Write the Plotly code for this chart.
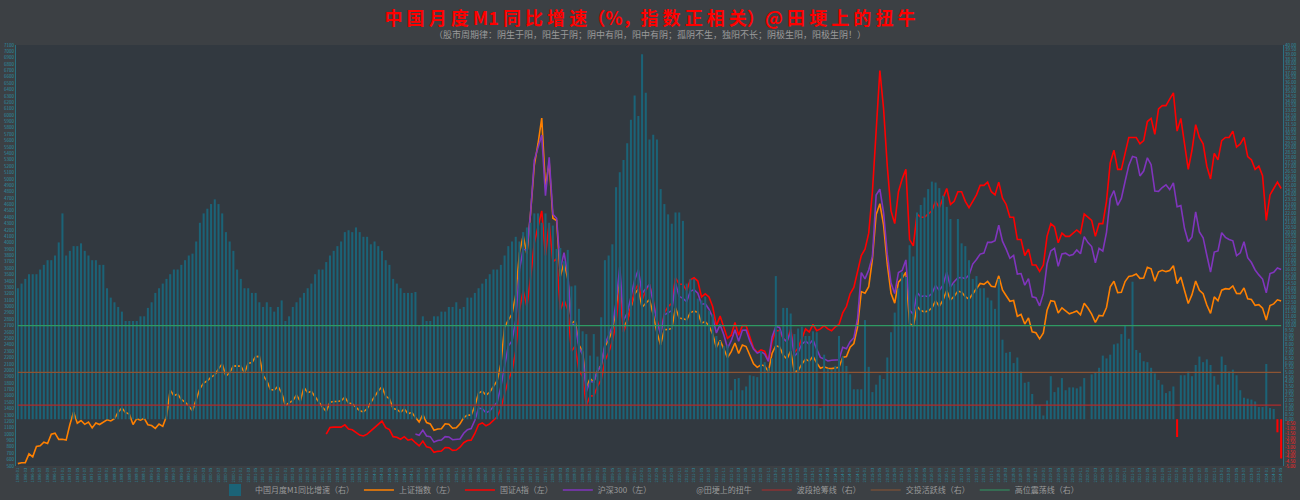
import plotly.graph_objects as go

# ---------------- data ----------------
start_year, start_month = 1996, 1
n_months = 341  # 1996-01 .. 2024-05
months = []
y, m = start_year, start_month
for _ in range(n_months):
    months.append(f"{y}-{m:02d}")
    m += 1
    if m > 12:
        m = 1
        y += 1

# China M1 yoy growth (%), monthly 1996-01 .. 2024-05
m1 = [
    14.0, 14.5, 15.0, 15.5, 15.5, 15.5, 16.0, 16.5, 17.0, 17.0, 17.5, 18.9,
    22.0, 17.5, 18.0, 18.5, 18.5, 18.8, 18.0, 17.5, 17.0, 17.0, 16.5, 16.5,
    14.0, 13.0, 12.5, 12.0, 11.5, 10.5, 10.5, 10.5, 10.5, 11.0, 11.0, 11.9,
    12.5, 13.5, 14.0, 14.5, 15.0, 15.5, 16.0, 16.0, 16.5, 17.0, 17.5, 17.7,
    19.0, 21.0, 22.0, 22.5, 23.0, 23.5, 23.0, 22.0, 20.0, 19.0, 18.0, 16.0,
    15.0, 14.0, 14.0, 13.5, 13.5, 12.5, 12.0, 12.5, 12.0, 11.5, 12.0, 12.7,
    10.5, 11.0, 12.0, 12.5, 13.0, 13.5, 14.0, 14.5, 15.5, 16.0, 16.0, 16.8,
    17.5, 18.0, 18.5, 19.0, 20.0, 20.2, 20.0, 20.5, 20.0, 19.5, 19.5, 18.7,
    19.0, 18.5, 18.0, 17.0, 16.5, 15.0, 14.5, 14.0, 13.5, 13.5, 13.5, 13.6,
    10.0, 11.0, 10.5, 10.5, 11.0, 11.0, 11.5, 11.5, 12.0, 12.0, 12.5, 11.8,
    12.0, 13.0, 13.0, 13.5, 14.0, 14.5, 15.0, 15.5, 16.0, 16.0, 16.5, 17.5,
    18.5, 19.0, 19.5, 19.0, 20.0, 20.5, 21.0, 22.0, 22.0, 21.0, 22.0, 21.0,
    20.7, 18.2, 18.3, 16.9, 18.1, 14.2, 14.3, 11.8, 9.4, 9.1, 6.8, 9.1,
    6.7, 10.9, 17.0, 17.5, 18.7, 24.8, 26.4, 27.7, 29.5, 32.0, 34.6, 32.4,
    39.0, 34.9, 29.9, 30.4, 29.9, 24.6, 23.0, 21.9, 20.9, 22.1, 22.1, 21.2,
    14.5, 15.0, 15.0, 12.9, 12.7, 13.1, 11.6, 11.2, 8.9, 8.4, 7.8, 7.9,
    3.1, 4.3, 4.4, 3.1, 3.5, 4.7, 4.6, 4.5, 7.3, 6.1, 5.5, 6.5,
    15.3, 9.5, 11.9, 11.9, 11.3, 9.1, 9.7, 9.9, 8.9, 8.9, 9.4, 9.3,
    1.2, 6.9, 5.4, 5.3, 5.7, 8.9, 6.7, 5.7, 4.8, 3.2, 3.2, 3.2,
    10.6, 5.6, 2.9, 3.7, 4.7, 4.3, 6.6, 9.3, 11.4, 14.0, 15.7, 15.2,
    18.6, 17.4, 22.1, 22.9, 23.7, 24.6, 25.4, 25.3, 24.7, 23.9, 22.7, 21.4,
    14.5, 21.4, 18.8, 18.5, 17.0, 15.0, 15.3, 14.0, 14.0, 13.0, 12.7, 11.8,
    15.0, 8.5, 7.1, 7.2, 6.0, 6.6, 5.1, 3.9, 4.0, 2.7, 1.5, 1.5,
    0.4, 2.0, 4.6, 2.9, 3.4, 4.4, 3.1, 3.4, 3.4, 3.3, 3.5, 4.4,
    0.0, 4.8, 5.0, 5.5, 6.8, 6.5, 6.9, 8.0, 8.1, 9.1, 10.0, 8.6,
    14.7, 7.4, 7.1, 6.2, 6.1, 5.5, 4.9, 4.2, 3.7, 2.8, 3.0, 3.5,
    -1.9, 4.7, 4.7, 5.1, 4.6, 5.8, 6.7, 6.1, 6.4, 5.8, 4.6, 3.7,
    6.7, 5.8, 5.1, 5.3, 4.7, 3.1, 2.3, 2.2, 2.1, 1.9, 1.3, 1.3,
    5.9, 1.2, 1.1, -1.4, -4.2,
]

# Shanghai Composite (上证指数), monthly close 1996-01 .. 2024-05
sh = [
    537, 551, 552, 691, 644, 805, 818, 874, 853, 1000, 1015, 917,
    918, 906, 1150, 1348, 1170, 1213, 1153, 1187, 1097, 1175, 1150, 1194,
    1224, 1206, 1243, 1343, 1411, 1339, 1314, 1150, 1242, 1218, 1248, 1147,
    1134, 1090, 1158, 1121, 1279, 1689, 1601, 1627, 1544, 1500, 1442, 1367,
    1535, 1715, 1800, 1836, 1894, 1928, 2023, 2101, 1910, 1961, 2070, 2073,
    2066, 1960, 2112, 2120, 2215, 2218, 1920, 1834, 1698, 1689, 1748, 1646,
    1447, 1491, 1524, 1613, 1516, 1732, 1652, 1669, 1581, 1507, 1421, 1358,
    1500, 1512, 1510, 1521, 1577, 1487, 1477, 1421, 1367, 1349, 1397, 1497,
    1590, 1675, 1742, 1595, 1555, 1399, 1386, 1342, 1396, 1320, 1340, 1266,
    1191, 1306, 1181, 1159, 1060, 1080, 1083, 1162, 1155, 1092, 1099, 1161,
    1258, 1299, 1298, 1441, 1642, 1672, 1612, 1658, 1753, 1837, 2099, 2675,
    2786, 2881, 3184, 3841, 4110, 3821, 4471, 5219, 5552, 5955, 4872, 5262,
    4383, 4349, 3473, 3693, 3433, 2736, 2776, 2397, 2294, 1729, 1871, 1821,
    1991, 2082, 2374, 2477, 2633, 2959, 3412, 2668, 2779, 2996, 3195, 3277,
    2989, 3052, 3110, 2871, 2592, 2398, 2638, 2639, 2656, 2979, 2820, 2808,
    2791, 2906, 2928, 2911, 2743, 2762, 2701, 2568, 2359, 2469, 2333, 2199,
    2293, 2429, 2263, 2397, 2373, 2225, 2103, 2047, 2086, 2069, 1980, 2269,
    2385, 2366, 2237, 2178, 2301, 1979, 1994, 2098, 2175, 2141, 2220, 2116,
    2033, 2056, 2033, 2026, 2039, 2048, 2202, 2217, 2364, 2420, 2683, 3235,
    3210, 3310, 3748, 4442, 4612, 4277, 3664, 3206, 3053, 3383, 3445, 3539,
    2738, 2688, 3004, 2938, 2917, 2930, 2979, 3085, 3005, 3100, 3250, 3104,
    3159, 3242, 3223, 3155, 3117, 3192, 3273, 3361, 3349, 3393, 3317, 3307,
    3481, 3259, 3169, 3082, 3095, 2847, 2876, 2725, 2821, 2603, 2588, 2494,
    2585, 2941, 3091, 3078, 2899, 2979, 2933, 2886, 2905, 2929, 2872, 3050,
    2977, 2880, 2750, 2860, 2852, 2985, 3310, 3396, 3218, 3225, 3392, 3473,
    3483, 3509, 3442, 3447, 3615, 3591, 3397, 3544, 3568, 3547, 3564, 3640,
    3361, 3462, 3252, 3047, 3186, 3399, 3253, 3202, 3024, 2893, 3151, 3089,
    3256, 3280, 3273, 3323, 3205, 3202, 3291, 3120, 3110, 3019, 3030, 2975,
    2789, 3015, 3041, 3105, 3087,
]

# 国证A指, monthly, 2002-12 .. 2024-05
gza_start = "2002-12"
gza = [
    1000,
    1103, 1110, 1105, 1110, 1145, 1078, 1068, 1025, 985, 970, 1000, 1050,
    1100, 1160, 1205, 1100, 1070, 960, 950, 920, 960, 905, 920, 865,
    815, 890, 800, 785, 715, 730, 735, 790, 785, 745, 750, 795,
    865, 900, 905, 1010, 1150, 1175, 1130, 1160, 1220, 1270, 1400, 1650,
    1850, 1990, 2300, 2950, 3250, 3000, 3450, 4000, 4250, 4500, 3800, 4300,
    3700, 3750, 2950, 3100, 2950, 2300, 2380, 2000, 1900, 1450, 1600, 1600,
    1750, 1850, 2150, 2280, 2450, 2750, 3300, 2600, 2750, 3000, 3250, 3350,
    3100, 3250, 3350, 3100, 2800, 2580, 2900, 3000, 3050, 3450, 3350, 3350,
    3250, 3420, 3450, 3400, 3150, 3200, 3150, 3000, 2700, 2850, 2680, 2500,
    2550, 2750, 2550, 2700, 2700, 2520, 2350, 2280, 2320, 2300, 2150, 2450,
    2620, 2620, 2500, 2450, 2650, 2280, 2350, 2500, 2650, 2600, 2720, 2620,
    2650, 2700, 2650, 2620, 2680, 2720, 2900, 3000, 3200, 3300, 3550, 3800,
    3900, 4150, 4800, 5700, 6700, 6100, 5200, 4500, 4300, 4800, 5000, 5150,
    4050, 3950, 4450, 4400, 4400, 4450, 4500, 4650, 4550, 4700, 4850, 4600,
    4650, 4800, 4800, 4650, 4550, 4650, 4750, 4900, 4900, 4950, 4800, 4750,
    4950, 4700, 4600, 4400, 4400, 4050, 4050, 3800, 3900, 3650, 3650, 3550,
    3650, 4100, 4300, 4250, 4000, 4150, 4100, 4100, 4150, 4200, 4150, 4450,
    4400, 4350, 4100, 4300, 4300, 4650, 5250, 5450, 5150, 5150, 5400, 5650,
    5650, 5650, 5550, 5600, 5900, 5950, 5700, 6100, 6150, 6150, 6250, 6350,
    5750, 5950, 5550, 5150, 5450, 5850, 5650, 5550, 5200, 5000, 5400, 5300,
    5600, 5650, 5650, 5750, 5500, 5550, 5650, 5350, 5300, 5150, 5200, 5050,
    4350, 4750, 4850, 4950, 4850,
]

# 沪深300, monthly, 2004-12 .. 2024-05
hs_start = "2004-12"
hs300 = [
    1000,
    982, 1063, 970, 960, 875, 899, 906, 960, 955, 912, 920, 923,
    1013, 1068, 1086, 1217, 1406, 1399, 1336, 1363, 1432, 1497, 1745, 2041,
    2380, 2461, 2781, 3574, 3904, 3876, 4471, 5296, 5513, 5688, 4737, 5338,
    4445, 4383, 3594, 3843, 3507, 2719, 2718, 2362, 2246, 1664, 1827, 1817,
    1990, 2073, 2404, 2534, 2692, 3061, 3626, 2783, 2896, 3148, 3418, 3576,
    3204, 3281, 3345, 3068, 2769, 2564, 2869, 2903, 2936, 3363, 3157, 3128,
    3076, 3239, 3265, 3210, 3036, 3044, 2958, 2832, 2585, 2716, 2556, 2346,
    2464, 2635, 2455, 2627, 2632, 2462, 2333, 2269, 2294, 2254, 2140, 2523,
    2687, 2673, 2495, 2448, 2604, 2223, 2284, 2409, 2459, 2410, 2479, 2331,
    2203, 2179, 2146, 2159, 2160, 2165, 2361, 2338, 2450, 2509, 2809, 3533,
    3434, 3572, 3786, 4749, 4841, 4473, 3817, 3367, 3203, 3534, 3566, 3731,
    2946, 2877, 3218, 3156, 3169, 3154, 3204, 3328, 3253, 3336, 3538, 3311,
    3387, 3452, 3456, 3439, 3492, 3666, 3737, 3822, 3837, 4006, 4006, 4031,
    4275, 4024, 3899, 3756, 3802, 3510, 3517, 3335, 3438, 3153, 3138, 3011,
    3202, 3670, 3872, 3913, 3630, 3826, 3836, 3799, 3814, 3886, 3828, 4097,
    4003, 3940, 3686, 3913, 3868, 4164, 4695, 4817, 4587, 4695, 4960, 5212,
    5352, 5336, 5048, 5124, 5332, 5224, 4812, 4806, 4866, 4909, 4833, 4940,
    4564, 4582, 4223, 4016, 4091, 4485, 4170, 4079, 3804, 3540, 3854, 3872,
    4157, 4085, 4051, 4030, 3798, 3843, 4015, 3765, 3690, 3573, 3496, 3431,
    3216, 3516, 3537, 3604, 3580,
]

# reference levels on the right axis (%)
level_grab = 1.5     # 波段抢筹线
level_active = 5.0   # 交投活跃线
level_high = 10.0    # 高位震荡线

left_ticks = list(range(500, 7101, 100))
right_ticks = [v / 2 for v in range(-10, 81)]

# ---------------- figure ----------------
TEAL = "#2a8fa3"
BAR = "#1b6377"

pad_gza = months.index(gza_start)
pad_hs = months.index(hs_start)
gza_full = [None] * pad_gza + gza
hs_full = [None] * pad_hs + hs300

fig = go.Figure()

fig.add_trace(go.Bar(
    x=months, y=m1, yaxis="y2", name="中国月度M1同比增速（右）",
    marker=dict(color=[BAR if v >= 0 else "#ff0000" for v in m1], line=dict(width=0)),
    legendrank=1,
))

for lvl, name, color, rank in [
    (level_grab, "波段抢筹线（右）", "#b02a2a", 6),
    (level_active, "交投活跃线（右）", "#8c5433", 7),
    (level_high, "高位震荡线（右）", "#2f9a62", 8),
]:
    fig.add_trace(go.Scatter(
        x=[months[0], months[-1]], y=[lvl, lvl], yaxis="y2", mode="lines",
        line=dict(color=color, width=1.2), name=name, legendrank=rank,
    ))

fig.add_trace(go.Scatter(x=months, y=sh, mode="lines", name="上证指数（左）",
                         line=dict(color="#ff8000", width=1.6), legendrank=2))
fig.add_trace(go.Scatter(x=months, y=gza_full, mode="lines", name="国证A指（左）",
                         line=dict(color="#ff0000", width=1.6), legendrank=3))
fig.add_trace(go.Scatter(x=months, y=hs_full, mode="lines", name="沪深300（左）",
                         line=dict(color="#8035bd", width=1.6), legendrank=4))
fig.add_trace(go.Scatter(x=[None], y=[None], mode="lines", name="@田埂上的扭牛",
                         line=dict(color="rgba(0,0,0,0)", width=0), legendrank=5))

right_text = []
for v in right_ticks:
    if v < 0:
        right_text.append(f'<span style="color:#ff2020">{v:.2f}</span>')
    else:
        right_text.append(f"{v:.2f}")

fig.update_layout(
    width=1300, height=500,
    margin=dict(l=16, r=17, t=45, b=34, autoexpand=False),
    paper_bgcolor="#3c4044",
    plot_bgcolor="#323940",
    font=dict(family="Noto Sans CJK SC, sans-serif", color="#9a9a9a"),
    bargap=0.45,
    showlegend=True,
    legend=dict(orientation="h", x=0.5, xanchor="center", yref="container",
                y=0.02, yanchor="middle",
                font=dict(size=8, color="#9a9a9a"), bgcolor="rgba(0,0,0,0)",
                itemwidth=30, traceorder="normal", tracegroupgap=0),
    title=dict(
        text="中 国 月 度 M1 同 比 增 速（%，指 数 正 相 关）@ 田 埂 上 的 扭 牛",
        x=0.5, xanchor="center", y=0.963, yanchor="middle",
        font=dict(size=18, color="#ff0000", family="Noto Sans CJK SC, serif", weight="bold"),
    ),
    xaxis=dict(
        type="category", tickmode="array",
        tickvals=months[::2], ticktext=months[::2],
        tickangle=-90, tickfont=dict(size=4, color=TEAL),
        showgrid=False, zeroline=False, showline=False, ticks="", automargin=False,
    ),
    yaxis=dict(
        range=[500, 7100], tickmode="array", tickvals=left_ticks,
        ticktext=[str(v) for v in left_ticks], automargin=False,
        tickfont=dict(size=4.5, color=TEAL), showgrid=False, zeroline=False,
        showline=True, linecolor="#2a6f80", linewidth=1, ticks="",
    ),
    yaxis2=dict(
        range=[-5, 40], overlaying="y", side="right", tickmode="array",
        tickvals=right_ticks, ticktext=right_text, automargin=False,
        tickfont=dict(size=4.5, color=TEAL), showgrid=False, zeroline=False,
        showline=True, linecolor="#2a6f80", linewidth=1, ticks="",
    ),
    annotations=[dict(
        text="（股市周期律：阴生于阳，阳生于阴；阴中有阳，阳中有阴；孤阴不生，独阳不长；阴极生阳，阳极生阴！）",
        xref="paper", yref="paper", x=0.5, y=1.0, yshift=11, xanchor="center", yanchor="middle",
        showarrow=False, font=dict(size=9, color="#9a9a9a"),
    )],
)

fig.write_html("out.html")
